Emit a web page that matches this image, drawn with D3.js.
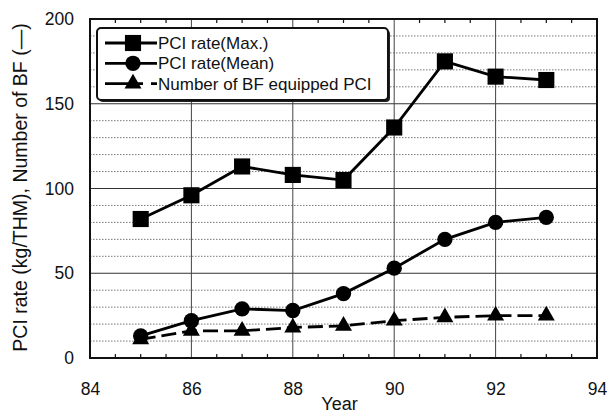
<!DOCTYPE html>
<html>
<head>
<meta charset="utf-8">
<script src="https://cdn.jsdelivr.net/npm/d3@7"></script>
<style>
  body { margin: 0; background: #fff; }
  text { font-family: "Liberation Sans", Arial, sans-serif; fill: #111; }
</style>
</head>
<body>
<svg id="chart" width="608" height="414"></svg>
<script>
// datos
var years = [85, 86, 87, 88, 89, 90, 91, 92, 93];
var pciMax = [82, 96, 113, 108, 105, 136, 175, 166, 164];
var pciMean = [13, 22, 29, 28, 38, 53, 70, 80, 83];
var bfCount = [11, 16, 16, 18, 19, 22, 24, 25, 25];
var xTicks = [84, 86, 88, 90, 92, 94];
var yTicks = [0, 50, 100, 150, 200];
var legendLabels = ["PCI rate(Max.)", "PCI rate(Mean)", "Number of BF equipped PCI"];

var margin = { left: 90, right: 11, top: 19, bottom: 56 };
var width = 608 - margin.left - margin.right,
    height = 414 - margin.top - margin.bottom;

var svg = d3.select("#chart")
  .append("g")
  .attr("transform", "translate(" + margin.left + "," + margin.top + ")");

var x = d3.scaleLinear().domain([84, 94]).range([0, width]);
var y = d3.scaleLinear().domain([0, 200]).range([height, 0]);

// rejilla punteada cada 10
svg.selectAll(".minor")
  .data(d3.range(10, 200, 10).filter(function (d) { return d % 50 !== 0; }))
  .enter().append("line")
  .attr("x1", 0).attr("x2", width)
  .attr("y1", function (d) { return y(d); })
  .attr("y2", function (d) { return y(d); })
  .attr("stroke", "#555")
  .attr("stroke-width", 0.8)
  .attr("stroke-dasharray", "1.5,1.5");

// rejilla principal
svg.selectAll(".hmajor")
  .data([50, 100, 150])
  .enter().append("line")
  .attr("x1", 0).attr("x2", width)
  .attr("y1", function (d) { return y(d); })
  .attr("y2", function (d) { return y(d); })
  .attr("stroke", "#333")
  .attr("stroke-width", 1);

svg.selectAll(".vmajor")
  .data([86, 88, 90, 92])
  .enter().append("line")
  .attr("y1", 0).attr("y2", height)
  .attr("x1", function (d) { return x(d); })
  .attr("x2", function (d) { return x(d); })
  .attr("stroke", "#444")
  .attr("stroke-width", 1);

// ejes
var xAxis = d3.axisBottom(x).tickValues(xTicks).tickSize(0).tickPadding(25);
var yAxis = d3.axisLeft(y).tickValues(yTicks).tickSize(0).tickPadding(16);

var gx = svg.append("g").attr("transform", "translate(0," + height + ")").call(xAxis);
var gy = svg.append("g").call(yAxis);
[gx, gy].forEach(function (g) {
  g.select(".domain").remove();
  g.selectAll("text").style("font-size", "17.5px").attr("fill", "#111");
});

// marcas menores abajo y arriba
var halfYears = d3.range(84.5, 94, 0.5).filter(function (d) { return d % 2 !== 0; });
svg.selectAll(".tickb")
  .data(halfYears)
  .enter().append("line")
  .attr("x1", function (d) { return x(d); })
  .attr("x2", function (d) { return x(d); })
  .attr("y1", height).attr("y2", height - 4)
  .attr("stroke", "#111").attr("stroke-width", 1.2);
svg.selectAll(".tickt")
  .data(halfYears)
  .enter().append("line")
  .attr("x1", function (d) { return x(d); })
  .attr("x2", function (d) { return x(d); })
  .attr("y1", 0).attr("y2", 4)
  .attr("stroke", "#111").attr("stroke-width", 1.2);

// marco
svg.append("rect")
  .attr("width", width).attr("height", height)
  .attr("fill", "none")
  .attr("stroke", "#111")
  .attr("stroke-width", 2);

// series
var line = d3.line()
  .x(function (d) { return x(d[0]); })
  .y(function (d) { return y(d[1]); });

function pairs(vals) { return years.map(function (yr, i) { return [yr, vals[i]]; }); }

var sq = d3.symbol().type(d3.symbolSquare).size(260);
var ci = d3.symbol().type(d3.symbolCircle).size(185);
var tr = d3.symbol().type(d3.symbolTriangle).size(125);

svg.append("path").datum(pairs(bfCount))
  .attr("d", line).attr("fill", "none")
  .attr("stroke", "#000").attr("stroke-width", 2.8)
  .attr("stroke-dasharray", "15,6");
svg.append("path").datum(pairs(pciMean))
  .attr("d", line).attr("fill", "none")
  .attr("stroke", "#000").attr("stroke-width", 2.8);
svg.append("path").datum(pairs(pciMax))
  .attr("d", line).attr("fill", "none")
  .attr("stroke", "#000").attr("stroke-width", 2.8);

function markers(vals, sym) {
  svg.append("g").selectAll("path")
    .data(pairs(vals))
    .enter().append("path")
    .attr("d", sym)
    .attr("transform", function (d) { return "translate(" + x(d[0]) + "," + y(d[1]) + ")"; })
    .attr("fill", "#000");
}
markers(bfCount, tr);
markers(pciMean, ci);
markers(pciMax, sq);

// leyenda
var leg = svg.append("g").attr("transform", "translate(7,9)");
leg.append("rect")
  .attr("x", 2).attr("y", 2)
  .attr("width", 291).attr("height", 72)
  .attr("rx", 4)
  .attr("fill", "#222");
leg.append("rect")
  .attr("width", 291).attr("height", 72)
  .attr("rx", 4)
  .attr("fill", "#fff")
  .attr("stroke", "#111").attr("stroke-width", 2);

var syms = [sq, ci, tr];
legendLabels.forEach(function (lab, i) {
  var ly = 15 + i * 20.3;
  leg.append("line")
    .attr("x1", 8).attr("x2", 60)
    .attr("y1", ly).attr("y2", ly)
    .attr("stroke", "#000").attr("stroke-width", 2.8)
    .attr("stroke-dasharray", i === 2 ? "38,8,6,10" : null);
  leg.append("path")
    .attr("d", syms[i])
    .attr("transform", "translate(" + 36 + "," + ly + ")")
    .attr("fill", "#000");
  leg.append("text")
    .attr("x", 61).attr("y", ly + 6)
    .style("font-size", "17px")
    .text(lab);
});

// titulos
svg.append("text")
  .attr("x", width / 2 - 4).attr("y", height + 52)
  .attr("text-anchor", "middle")
  .style("font-size", "18px")
  .text("Year");

svg.append("text")
  .attr("transform", "translate(-63," + (height / 2 - 1) + ") rotate(-90)")
  .attr("text-anchor", "middle")
  .style("font-size", "19.5px")
  .text("PCI rate (kg/THM), Number of BF (\u2014)");
</script>
</body>
</html>
